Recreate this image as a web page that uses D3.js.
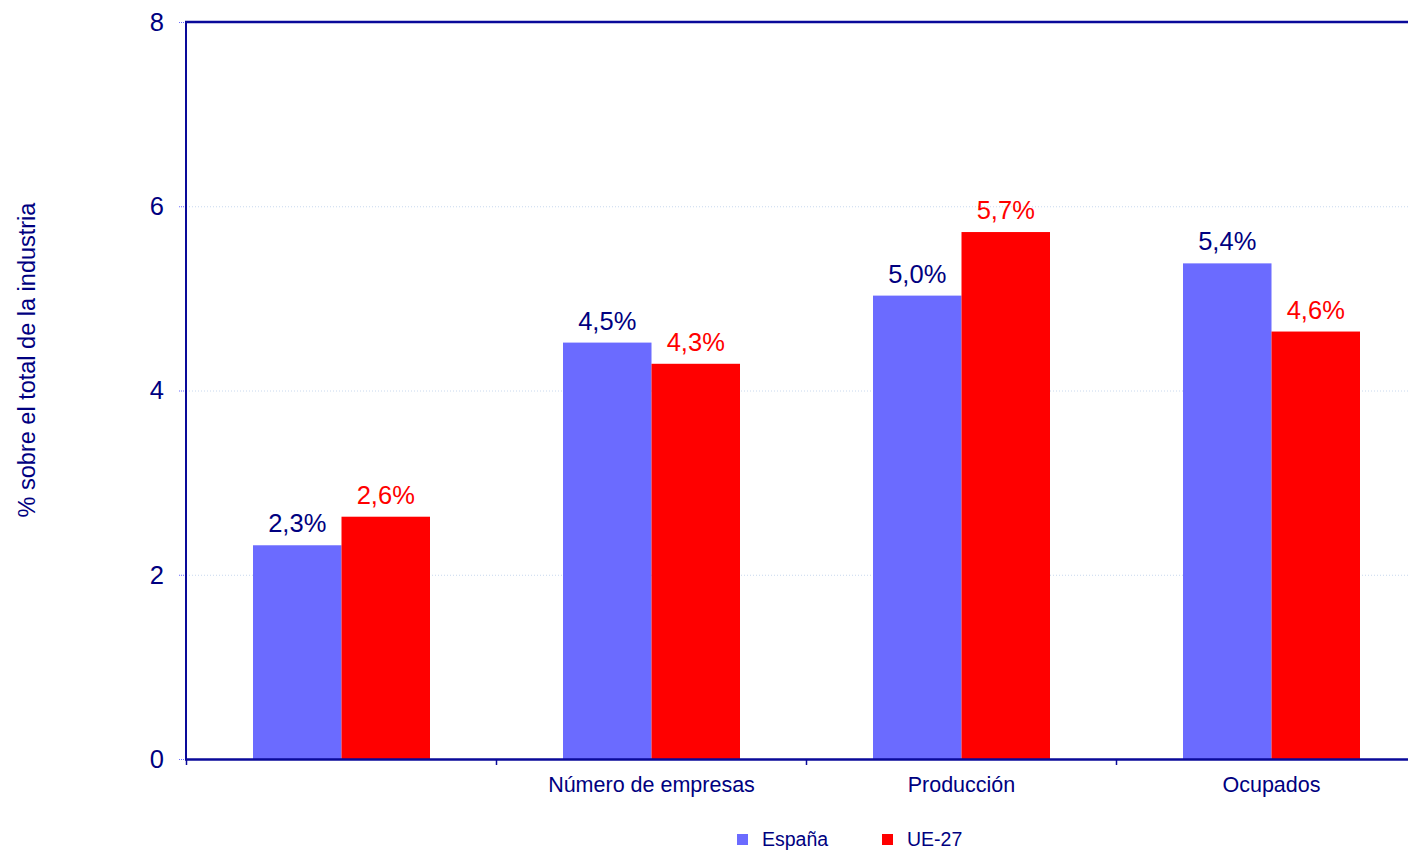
<!DOCTYPE html>
<html>
<head>
<meta charset="utf-8">
<script src="https://cdn.jsdelivr.net/npm/d3@7"></script>
<style>
  body { margin: 0; background: #fff; }
  svg { display: block; font-family: "Liberation Sans", Arial, sans-serif; }
</style>
</head>
<body>
<svg class="chart" width="1408" height="851"></svg>
<script>
var categories = ["", "Número de empresas", "Producción", "Ocupados"];
var seriesNames = ["España", "UE-27"];
var espana = [2.32, 4.52, 5.03, 5.38];
var ue27 = [2.63, 4.29, 5.72, 4.64];
var yTicks = [0, 2, 4, 6, 8];

var colors = { "España": "#6b6bff", "UE-27": "#ff0000" };
var labelColors = { "España": "#000080", "UE-27": "#ff0000" };
var navy = "#000080";
var axisColor = "#0a0a9a";

var svg = d3.select("svg.chart");
var plotLeft = 186, plotRight = 1426, plotTop = 22, plotBottom = 759;

var locale = d3.formatLocale({ decimal: ",", thousands: ".", grouping: [3], currency: ["", "€"] });
var fmt = locale.format(".1f");

var x0 = d3.scaleBand().domain(categories).range([plotLeft, plotRight]);
var x1 = d3.scaleBand().domain(seriesNames).range([67, x0.bandwidth() - 66]);
var y = d3.scaleLinear().domain([0, 8]).range([plotBottom, plotTop]);

var rows = categories.map(function(c, i) {
  return { category: c, values: [
    { key: "España", value: espana[i] },
    { key: "UE-27", value: ue27[i] }
  ] };
});

// grid lines
svg.append("g")
  .selectAll("line")
  .data(yTicks.filter(function(t) { return t > 0 && t < 8; }))
  .enter()
  .append("line")
  .attr("x1", plotLeft)
  .attr("x2", 1408)
  .attr("y1", function(d) { return y(d) + 0.5; })
  .attr("y2", function(d) { return y(d) + 0.5; })
  .attr("stroke", "#c8d8ee")
  .attr("stroke-dasharray", "1,2");

// y tick marks and labels
var yg = svg.append("g");
yg.selectAll("line")
  .data(yTicks)
  .enter()
  .append("line")
  .attr("x1", 179)
  .attr("x2", plotLeft)
  .attr("y1", function(d) { return y(d) + 0.5; })
  .attr("y2", function(d) { return y(d) + 0.5; })
  .attr("stroke", "#6b6bff")
  .attr("stroke-dasharray", "1,1");
yg.selectAll("text")
  .data(yTicks)
  .enter()
  .append("text")
  .attr("x", 164)
  .attr("y", function(d) { return y(d); })
  .attr("dy", "0.35em")
  .attr("text-anchor", "end")
  .attr("font-size", 25.5)
  .attr("fill", navy)
  .text(function(d) { return d; });

// bars
var groups = svg.append("g")
  .selectAll("g")
  .data(rows)
  .enter()
  .append("g")
  .attr("transform", function(d) { return "translate(" + x0(d.category) + ",0)"; });

groups.selectAll("rect")
  .data(function(d) { return d.values; })
  .enter()
  .append("rect")
  .attr("x", function(d) { return x1(d.key); })
  .attr("width", x1.bandwidth())
  .attr("y", function(d) { return y(d.value); })
  .attr("height", function(d) { return y(0) - y(d.value); })
  .attr("fill", function(d) { return colors[d.key]; });

groups.selectAll("text")
  .data(function(d) { return d.values; })
  .enter()
  .append("text")
  .attr("x", function(d) { return x1(d.key) + x1.bandwidth() / 2; })
  .attr("y", function(d) { return y(d.value) - 13; })
  .attr("text-anchor", "middle")
  .attr("font-size", 25.5)
  .attr("fill", function(d) { return labelColors[d.key]; })
  .text(function(d) { return fmt(d.value) + "%"; });

// axes lines
svg.append("line")
  .attr("x1", plotLeft).attr("x2", plotLeft)
  .attr("y1", plotTop).attr("y2", plotBottom + 1)
  .attr("stroke", axisColor).attr("stroke-width", 2);
svg.append("line")
  .attr("x1", plotLeft - 1).attr("x2", 1408)
  .attr("y1", plotTop).attr("y2", plotTop)
  .attr("stroke", axisColor).attr("stroke-width", 2.5);
svg.append("line")
  .attr("x1", plotLeft - 1).attr("x2", 1408)
  .attr("y1", plotBottom + 0.5).attr("y2", plotBottom + 0.5)
  .attr("stroke", axisColor).attr("stroke-width", 2.5);

// x ticks
svg.append("g")
  .selectAll("line")
  .data(categories)
  .enter()
  .append("line")
  .attr("x1", function(d) { return x0(d) + 0.5; })
  .attr("x2", function(d) { return x0(d) + 0.5; })
  .attr("y1", plotBottom)
  .attr("y2", plotBottom + 6)
  .attr("stroke", axisColor)
  .attr("stroke-width", 1.5);

svg.append("g")
  .selectAll("text")
  .data(categories)
  .enter()
  .append("text")
  .attr("x", function(d) { return x0(d) + x1("UE-27"); })
  .attr("y", 792)
  .attr("text-anchor", "middle")
  .attr("font-size", 21.5)
  .attr("fill", navy)
  .text(function(d) { return d; });

// y axis title
svg.append("text")
  .attr("transform", "translate(35,360) rotate(-90)")
  .attr("text-anchor", "middle")
  .attr("font-size", 23.5)
  .attr("fill", navy)
  .text("% sobre el total de la industria");

// legend
var legend = svg.append("g")
  .selectAll("g")
  .data(seriesNames)
  .enter()
  .append("g")
  .attr("transform", function(d, i) { return "translate(" + (737 + i * 145) + ",834)"; });
legend.append("rect")
  .attr("width", 11)
  .attr("height", 11)
  .attr("fill", function(d) { return colors[d]; });
legend.append("text")
  .attr("x", 25)
  .attr("y", 12)
  .attr("font-size", 19.5)
  .attr("fill", navy)
  .text(function(d) { return d; });
</script>
</body>
</html>
